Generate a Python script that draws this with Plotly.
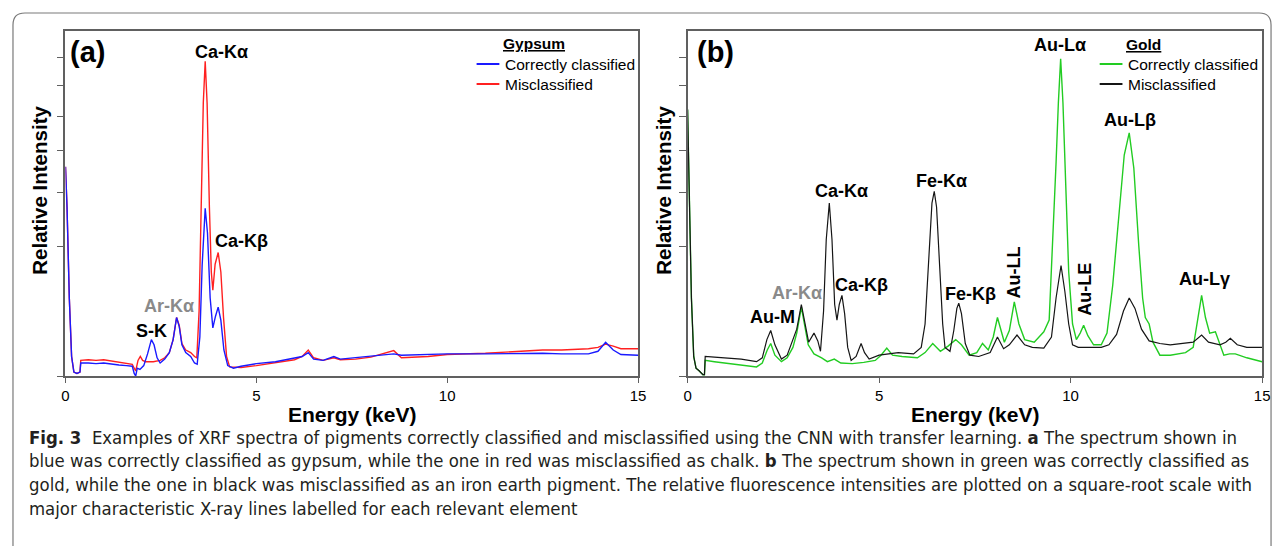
import numpy as np
import plotly.graph_objects as go

# page body has an 8px margin, so the figure is laid out in page pixels minus 8
OFF = 8
W, H = 1276, 538

# ---------------- Panel (a): Gypsum (values = sqrt of relative intensity) ----------------
a_blue_E = [0.00, 0.04, 0.10, 0.16, 0.22, 0.30, 0.38, 0.40, 0.60, 0.80, 1.00, 1.20, 1.40, 1.60, 1.75, 1.80,
            1.84, 1.88, 1.95, 2.05, 2.15, 2.25, 2.32, 2.40, 2.48, 2.60, 2.72, 2.82, 2.91, 2.98, 3.05, 3.15,
            3.28, 3.38, 3.45, 3.52, 3.58, 3.66, 3.72, 3.79, 3.86, 3.93, 4.00, 4.07, 4.15, 4.25, 4.40, 4.60,
            5.00, 5.50, 6.00, 6.20, 6.36, 6.50, 6.75, 7.03, 7.20, 7.60, 8.00, 8.60, 8.80, 9.50, 10.0, 11.0,
            12.0, 12.5, 13.0, 13.7, 13.95, 14.15, 14.35, 14.55, 15.0]
a_blue_S = [1.61, 1.30, 0.60, 0.15, 0.03, 0.02, 0.03, 0.10, 0.10, 0.095, 0.10, 0.09, 0.085, 0.08, 0.075, 0.02,
            0.00, 0.06, 0.05, 0.08, 0.17, 0.28, 0.24, 0.14, 0.10, 0.13, 0.18, 0.28, 0.45, 0.38, 0.24, 0.18,
            0.15, 0.10, 0.09, 0.30, 0.85, 1.29, 1.10, 0.60, 0.37, 0.46, 0.53, 0.43, 0.20, 0.08, 0.06, 0.075,
            0.095, 0.11, 0.135, 0.15, 0.18, 0.13, 0.12, 0.15, 0.13, 0.14, 0.15, 0.17, 0.16, 0.165, 0.17, 0.17,
            0.175, 0.175, 0.17, 0.17, 0.19, 0.26, 0.20, 0.165, 0.16]

a_red_E = [0.00, 0.04, 0.10, 0.16, 0.22, 0.30, 0.38, 0.40, 0.60, 0.80, 1.00, 1.20, 1.40, 1.60, 1.75, 1.80,
           1.84, 1.90, 1.96, 2.02, 2.10, 2.30, 2.48, 2.60, 2.72, 2.82, 2.91, 2.98, 3.05, 3.15, 3.28, 3.38,
           3.44, 3.50, 3.56, 3.61, 3.66, 3.71, 3.77, 3.82, 3.86, 3.92, 4.00, 4.07, 4.14, 4.22, 4.30, 4.60,
           5.00, 5.50, 6.00, 6.20, 6.36, 6.50, 6.75, 7.03, 7.20, 7.60, 8.00, 8.60, 8.80, 9.50, 10.0, 11.0,
           12.0, 12.5, 13.0, 13.7, 13.95, 14.15, 14.35, 14.55, 15.0]
a_red_S = [1.61, 1.30, 0.60, 0.15, 0.03, 0.02, 0.03, 0.12, 0.125, 0.12, 0.125, 0.115, 0.105, 0.10, 0.09, 0.06,
           0.04, 0.12, 0.15, 0.12, 0.11, 0.11, 0.12, 0.14, 0.18, 0.28, 0.45, 0.39, 0.25, 0.20, 0.18, 0.15,
           0.14, 0.50, 1.40, 2.10, 2.42, 2.10, 1.30, 0.80, 0.66, 0.86, 0.95, 0.80, 0.45, 0.15, 0.07, 0.065,
           0.08, 0.10, 0.125, 0.15, 0.20, 0.14, 0.12, 0.14, 0.125, 0.13, 0.145, 0.195, 0.14, 0.15, 0.165, 0.175,
           0.19, 0.20, 0.20, 0.21, 0.22, 0.245, 0.23, 0.21, 0.21]

# ---------------- Panel (b): Gold ----------------
b_green_E = [0.00, 0.04, 0.10, 0.16, 0.22, 0.30, 0.40, 0.44, 0.46, 0.70, 1.00, 1.40, 1.80, 1.95, 2.08, 2.17,
             2.28, 2.45, 2.60, 2.75, 2.85, 2.97, 3.05, 3.15, 3.30, 3.50, 3.65, 3.83, 4.00, 4.30, 4.60, 4.90,
             5.05, 5.20, 5.35, 5.60, 6.00, 6.20, 6.40, 6.60, 6.80, 7.00, 7.15, 7.35, 7.55, 7.70, 7.85, 7.98,
             8.09, 8.18, 8.27, 8.40, 8.53, 8.65, 8.80, 9.05, 9.30, 9.44, 9.55, 9.62, 9.68, 9.74, 9.80, 9.88,
             9.95, 10.05, 10.15, 10.25, 10.34, 10.45, 10.60, 10.80, 10.95, 11.10, 11.25, 11.40, 11.53, 11.65,
             11.78, 11.88, 11.95, 12.05, 12.15, 12.33, 12.60, 13.00, 13.20, 13.30, 13.42, 13.52, 13.63, 13.78,
             13.90, 14.00, 14.15, 14.30, 14.60, 15.00]
b_green_S = [2.05, 1.40, 0.60, 0.15, 0.06, 0.04, 0.01, 0.01, 0.12, 0.11, 0.10, 0.085, 0.07, 0.10, 0.20, 0.25,
             0.16, 0.11, 0.14, 0.22, 0.33, 0.53, 0.40, 0.24, 0.17, 0.14, 0.11, 0.13, 0.10, 0.095, 0.105, 0.12,
             0.16, 0.215, 0.16, 0.15, 0.14, 0.18, 0.25, 0.19, 0.23, 0.28, 0.24, 0.16, 0.18, 0.25, 0.20, 0.30,
             0.45, 0.35, 0.26, 0.35, 0.57, 0.40, 0.28, 0.26, 0.34, 0.43, 1.10, 1.64, 2.10, 2.44, 2.10, 1.40,
             0.80, 0.40, 0.28, 0.33, 0.39, 0.31, 0.24, 0.24, 0.33, 0.70, 1.20, 1.70, 1.87, 1.60,
             1.00, 0.60, 0.45, 0.40, 0.26, 0.16, 0.16, 0.18, 0.22, 0.40, 0.62, 0.45, 0.33, 0.34,
             0.25, 0.16, 0.17, 0.17, 0.14, 0.11]

b_black_E = [0.00, 0.04, 0.10, 0.16, 0.22, 0.30, 0.40, 0.44, 0.46, 0.70, 1.00, 1.40, 1.80, 1.95, 2.07, 2.17,
             2.28, 2.45, 2.60, 2.72, 2.85, 2.97, 3.05, 3.16, 3.30, 3.40, 3.47, 3.55, 3.62, 3.70, 3.77, 3.84,
             3.90, 3.96, 4.03, 4.10, 4.18, 4.27, 4.40, 4.53, 4.62, 4.74, 5.00, 5.50, 5.90, 6.10, 6.20, 6.30,
             6.38, 6.44, 6.50, 6.58, 6.66, 6.72, 6.85, 6.95, 7.03, 7.08, 7.15, 7.25, 7.37, 7.60, 7.90, 8.09,
             8.25, 8.40, 8.60, 8.80, 9.00, 9.30, 9.50, 9.62, 9.75, 9.85, 9.95, 10.05, 10.20, 10.50, 10.80,
             11.00, 11.20, 11.38, 11.53, 11.68, 11.85, 12.05, 12.33, 12.60, 13.00, 13.20, 13.42, 13.60, 13.90,
             14.05, 14.17, 14.35, 14.60, 15.00]
b_black_S = [2.05, 1.40, 0.60, 0.15, 0.06, 0.04, 0.01, 0.01, 0.15, 0.145, 0.14, 0.13, 0.11, 0.14, 0.28, 0.35,
             0.24, 0.13, 0.16, 0.26, 0.36, 0.55, 0.42, 0.26, 0.33, 0.27, 0.19, 0.50, 1.05, 1.33, 1.05, 0.55,
             0.43, 0.55, 0.62, 0.48, 0.22, 0.12, 0.15, 0.25, 0.18, 0.13, 0.16, 0.18, 0.17, 0.22, 0.40, 0.95,
             1.33, 1.42, 1.30, 0.85, 0.40, 0.22, 0.19, 0.35, 0.52, 0.56, 0.48, 0.25, 0.16, 0.15, 0.18, 0.30,
             0.21, 0.24, 0.315, 0.24, 0.22, 0.215, 0.30, 0.60, 0.85, 0.65, 0.40, 0.24, 0.22, 0.22, 0.22,
             0.24, 0.32, 0.50, 0.60, 0.52, 0.36, 0.27, 0.25, 0.24, 0.25, 0.26, 0.315, 0.26, 0.24,
             0.26, 0.29, 0.24, 0.22, 0.22]

x_ticks = [0, 5, 10, 15]
x_tick_labels = ["0", "5", "10", "15"]
y_tick_intensity = [0, 1, 2, 3, 4, 5, 6]

# ---------------- helpers (page pixels -> paper coords) ----------------
def px(x, y):
    return (x - OFF) / W, 1 - (y - OFF) / H

FONT = "Arial, Liberation Sans, sans-serif"
CAP_FONT = "DejaVu Sans Condensed, DejaVu Sans, sans-serif"

fig = go.Figure()
fig.add_trace(go.Scatter(x=a_red_E, y=a_red_S, mode="lines", line=dict(color="#ff2020", width=1.4),
                         xaxis="x", yaxis="y", showlegend=False))
fig.add_trace(go.Scatter(x=a_blue_E, y=a_blue_S, mode="lines", line=dict(color="#1a1aff", width=1.4),
                         xaxis="x", yaxis="y", showlegend=False))
fig.add_trace(go.Scatter(x=b_green_E, y=b_green_S, mode="lines", line=dict(color="#22cc22", width=1.4),
                         xaxis="x2", yaxis="y2", showlegend=False))
fig.add_trace(go.Scatter(x=b_black_E, y=b_black_S, mode="lines", line=dict(color="#151515", width=1.2),
                         xaxis="x2", yaxis="y2", showlegend=False))

ydom = [px(0, 376)[1], px(0, 31)[1]]
ytop = (376 - 31) / 130.0
axis_common = dict(showline=True, mirror=True, linecolor="#606060", linewidth=1.5, showgrid=False,
                   zeroline=False, ticks="outside", ticklen=5, tickcolor="#606060", tickwidth=1.2)
xa = dict(axis_common, range=[0, 15], tickvals=x_ticks, ticktext=x_tick_labels,
          tickfont=dict(family=FONT, size=15, color="black"))
ya = dict(axis_common, range=[0, ytop], tickvals=list(np.sqrt(y_tick_intensity)), showticklabels=False,
          ticklen=7, domain=ydom)
fig.update_layout(
    width=W, height=H, margin=dict(l=0, r=0, t=0, b=0),
    paper_bgcolor="white", plot_bgcolor="white",
    xaxis=dict(xa, domain=[px(62, 0)[0], px(640, 0)[0]], anchor="y"),
    yaxis=dict(ya, anchor="x"),
    xaxis2=dict(xa, domain=[px(690, 0)[0], px(1270, 0)[0]], anchor="y2"),
    yaxis2=dict(ya, anchor="x2"),
    font=dict(family=FONT),
)

ann = []
def label(text, x, y, size=18, color="black", angle=0, xanchor="center", family=FONT):
    X, Y = px(x, y)
    ann.append(dict(text=text, x=X, y=Y, xref="paper", yref="paper", showarrow=False,
                    font=dict(family=family, size=size, color=color), textangle=angle,
                    xanchor=xanchor, yanchor="middle"))

# panel labels
label("<b>(a)</b>", 84, 52, size=29)
label("<b>(b)</b>", 718, 52, size=29)
# axis titles
label("<b>Energy (keV)</b>", 351, 414, size=21)
label("<b>Energy (keV)</b>", 980, 414, size=21)
label("<b>Relative Intensity</b>", 35, 190, size=20.5, angle=-90)
label("<b>Relative Intensity</b>", 665, 190, size=20.5, angle=-90)

# peak labels panel (a)
label("<b>Ca-Kα</b>", 219, 52)
label("<b>Ca-Kβ</b>", 240, 241)
label("<b>Ar-Kα</b>", 166, 306, color="#8a8a8a")
label("<b>S-K</b>", 149, 331)
# peak labels panel (b)
label("<b>Au-M</b>", 776, 317)
label("<b>Ar-Kα</b>", 800, 293, color="#8a8a8a")
label("<b>Ca-Kα</b>", 845, 191)
label("<b>Ca-Kβ</b>", 866, 285)
label("<b>Fe-Kα</b>", 946, 181)
label("<b>Fe-Kβ</b>", 976, 294)
label("<b>Au-LL</b>", 1020, 272, angle=-90)
label("<b>Au-Lα</b>", 1066, 45)
label("<b>Au-LE</b>", 1091, 289, angle=-90)
label("<b>Au-Lβ</b>", 1137, 120)
label("<b>Au-Lγ</b>", 1212, 279)

# legends
label("<b><u>Gypsum</u></b>", 535, 43, size=15.5)
label("Correctly classified", 504, 64, size=15.5, xanchor="left")
label("Misclassified", 504, 84, size=15.5, xanchor="left")
label("<b><u>Gold</u></b>", 1150, 44, size=15.5)
label("Correctly classified", 1133, 64, size=15.5, xanchor="left")
label("Misclassified", 1133, 84, size=15.5, xanchor="left")

shapes = []
def hline(x0, x1, y, color, width=2):
    X0, Y = px(x0, y)
    X1, _ = px(x1, y)
    shapes.append(dict(type="line", xref="paper", yref="paper", x0=X0, x1=X1, y0=Y, y1=Y,
                       line=dict(color=color, width=width)))
hline(477, 500, 64, "#1a1aff")
hline(477, 500, 84, "#ff2020")
hline(1106, 1129, 64, "#22cc22")
hline(1106, 1129, 84, "#151515")

# rounded figure border
def P(x, y):
    X, Y = px(x, y)
    return f"{X:.5f},{Y:.5f}"
x0b, y0b, x1b, y1b, r = 9, 13, 1279, 560, 12
path = (f"M {P(x0b, y1b)} L {P(x0b, y0b + r)} Q {P(x0b, y0b)} {P(x0b + r, y0b)} "
        f"L {P(x1b - r, y0b)} Q {P(x1b, y0b)} {P(x1b, y0b + r)} L {P(x1b, y1b)}")
shapes.append(dict(type="path", xref="paper", yref="paper", path=path,
                   line=dict(color="#7a7a7a", width=1.2)))

# caption
cap_lines = [
    "<b>Fig. 3</b>  Examples of XRF spectra of pigments correctly classified and misclassified using the CNN with transfer learning. <b>a</b> The spectrum shown in",
    "blue was correctly classified as gypsum, while the one in red was misclassified as chalk. <b>b</b> The spectrum shown in green was correctly classified as",
    "gold, while the one in black was misclassified as an iron earth pigment. The relative fluorescence intensities are plotted on a square-root scale with",
    "major characteristic X-ray lines labelled for each relevant element",
]
for i, t in enumerate(cap_lines):
    label(t, 23, 437 + i * 23.7, size=18.4, color="#231f20", xanchor="left", family=CAP_FONT)

fig.update_layout(annotations=ann, shapes=shapes)
fig.write_html("out.html")
